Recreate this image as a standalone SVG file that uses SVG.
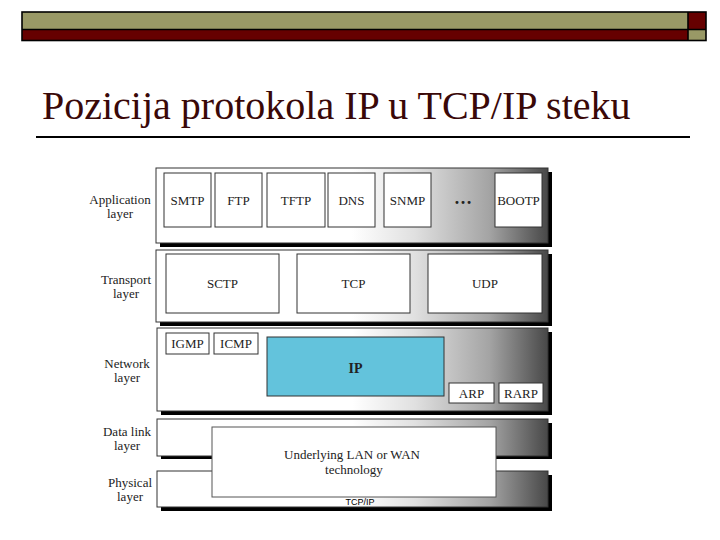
<svg xmlns="http://www.w3.org/2000/svg" width="720" height="540" viewBox="0 0 720 540">
<defs>
<linearGradient id="lg" x1="0" y1="0" x2="1" y2="0">
<stop offset="0" stop-color="#ffffff"/>
<stop offset="0.5" stop-color="#ffffff"/>
<stop offset="0.66" stop-color="#e0e0e0"/>
<stop offset="0.85" stop-color="#a4a4a4"/>
<stop offset="1" stop-color="#484848"/>
</linearGradient>
<style>
.sh{fill:#000}
.layer{fill:url(#lg);stroke:#333;stroke-width:1}
.box{fill:#fff;stroke:#333;stroke-width:1}
.lbl{font-family:"Liberation Serif",serif;font-size:13px;fill:#222;text-anchor:middle}
.t{font-family:"Liberation Serif",serif;font-size:13px;fill:#222;text-anchor:middle}
</style>
</defs>
<rect width="720" height="540" fill="#fff"/>
<g id="topbar">
<rect x="22" y="12" width="666" height="17.5" fill="#999966"/>
<rect x="22" y="29.5" width="666" height="11" fill="#660000"/>
<rect x="688" y="12" width="18" height="17.5" fill="#660000"/>
<rect x="688" y="29.5" width="18" height="11" fill="#999966"/>
<rect x="22" y="12" width="684" height="28.5" fill="none" stroke="#000" stroke-width="1.6"/>
<line x1="22" y1="29.5" x2="706" y2="29.5" stroke="#000" stroke-width="1.6"/>
<line x1="688" y1="12" x2="688" y2="40.5" stroke="#000" stroke-width="1.6"/>
</g>
<g id="title">
<text x="42" y="119" font-family="Liberation Serif,serif" font-size="40" fill="#3a0808">Pozicija protokola IP u TCP/IP steku</text>
<line x1="36" y1="137" x2="690" y2="137" stroke="#000" stroke-width="2"/>
</g>
<g id="layers">
<g id="application">
<rect class="sh" x="160" y="172" width="392" height="75"/>
<rect class="layer" x="156" y="168" width="392" height="75"/>
<text class="lbl" x="120" y="204">Application</text>
<text class="lbl" x="120" y="218">layer</text>
</g>
<g id="transport">
<rect class="sh" x="160" y="254" width="392" height="72"/>
<rect class="layer" x="156" y="250" width="392" height="72"/>
<text class="lbl" x="126" y="284">Transport</text>
<text class="lbl" x="126" y="298">layer</text>
</g>
<g id="network">
<rect class="sh" x="161" y="332" width="391" height="83"/>
<rect class="layer" x="157" y="328" width="391" height="83"/>
<text class="lbl" x="127" y="368">Network</text>
<text class="lbl" x="127" y="382">layer</text>
</g>
<g id="datalink">
<rect class="sh" x="161" y="423" width="391" height="36"/>
<rect class="layer" x="157" y="419" width="391" height="37"/>
<text class="lbl" x="127" y="436">Data link</text>
<text class="lbl" x="127" y="450">layer</text>
</g>
<g id="physical">
<rect class="sh" x="161" y="475" width="391" height="36"/>
<rect class="layer" x="157" y="471" width="391" height="36"/>
<text class="lbl" x="130" y="487">Physical</text>
<text class="lbl" x="130" y="501">layer</text>
</g>
</g>
<g id="nodes">
<g id="smtp"><rect class="box" x="164" y="173" width="47" height="54"/><text class="t" x="187.5" y="205">SMTP</text></g>
<g id="ftp"><rect class="box" x="215" y="173" width="47" height="54"/><text class="t" x="238.5" y="205">FTP</text></g>
<g id="tftp"><rect class="box" x="267" y="173" width="58" height="54"/><text class="t" x="296" y="205">TFTP</text></g>
<g id="dns"><rect class="box" x="328" y="173" width="47" height="54"/><text class="t" x="351.5" y="205">DNS</text></g>
<g id="snmp"><rect class="box" x="384" y="173" width="47" height="54"/><text class="t" x="407.5" y="205">SNMP</text></g>
<g id="dots"><text x="463" y="204" font-family="Liberation Serif,serif" font-size="18" font-weight="bold" fill="#222" text-anchor="middle">…</text></g>
<g id="bootp"><rect class="box" x="495" y="173" width="47" height="54"/><text class="t" x="518.5" y="205">BOOTP</text></g>
<g id="sctp"><rect class="box" x="166" y="254" width="113" height="59"/><text class="t" x="222.5" y="288">SCTP</text></g>
<g id="tcp"><rect class="box" x="297" y="254" width="113" height="59"/><text class="t" x="353.5" y="288">TCP</text></g>
<g id="udp"><rect class="box" x="428" y="254" width="114" height="59"/><text class="t" x="485" y="288">UDP</text></g>
<g id="igmp"><rect class="box" x="166" y="333" width="43" height="21"/><text class="t" x="187.5" y="348">IGMP</text></g>
<g id="icmp"><rect class="box" x="214" y="333" width="44" height="21"/><text class="t" x="236" y="348">ICMP</text></g>
<g id="ip"><rect x="267" y="337" width="177" height="59" fill="#63c3dc" stroke="#333" stroke-width="1"/><text x="355.5" y="373" font-family="Liberation Serif,serif" font-size="14" font-weight="bold" fill="#222" text-anchor="middle">IP</text></g>
<g id="arp"><rect class="box" x="449" y="383" width="45" height="20"/><text class="t" x="471.5" y="398">ARP</text></g>
<g id="rarp"><rect class="box" x="499" y="383" width="44" height="20"/><text class="t" x="521" y="398">RARP</text></g>
<g id="lanwan"><rect x="212" y="427" width="284" height="70" fill="#fff" stroke="#555" stroke-width="1"/><text class="t" x="352" y="459">Underlying LAN or WAN</text><text class="t" x="354" y="474">technology</text></g>
</g>
<g id="connectors"></g>
<text x="360" y="505" font-family="Liberation Sans,sans-serif" font-size="9" fill="#000" text-anchor="middle">TCP/IP</text>
</svg>
